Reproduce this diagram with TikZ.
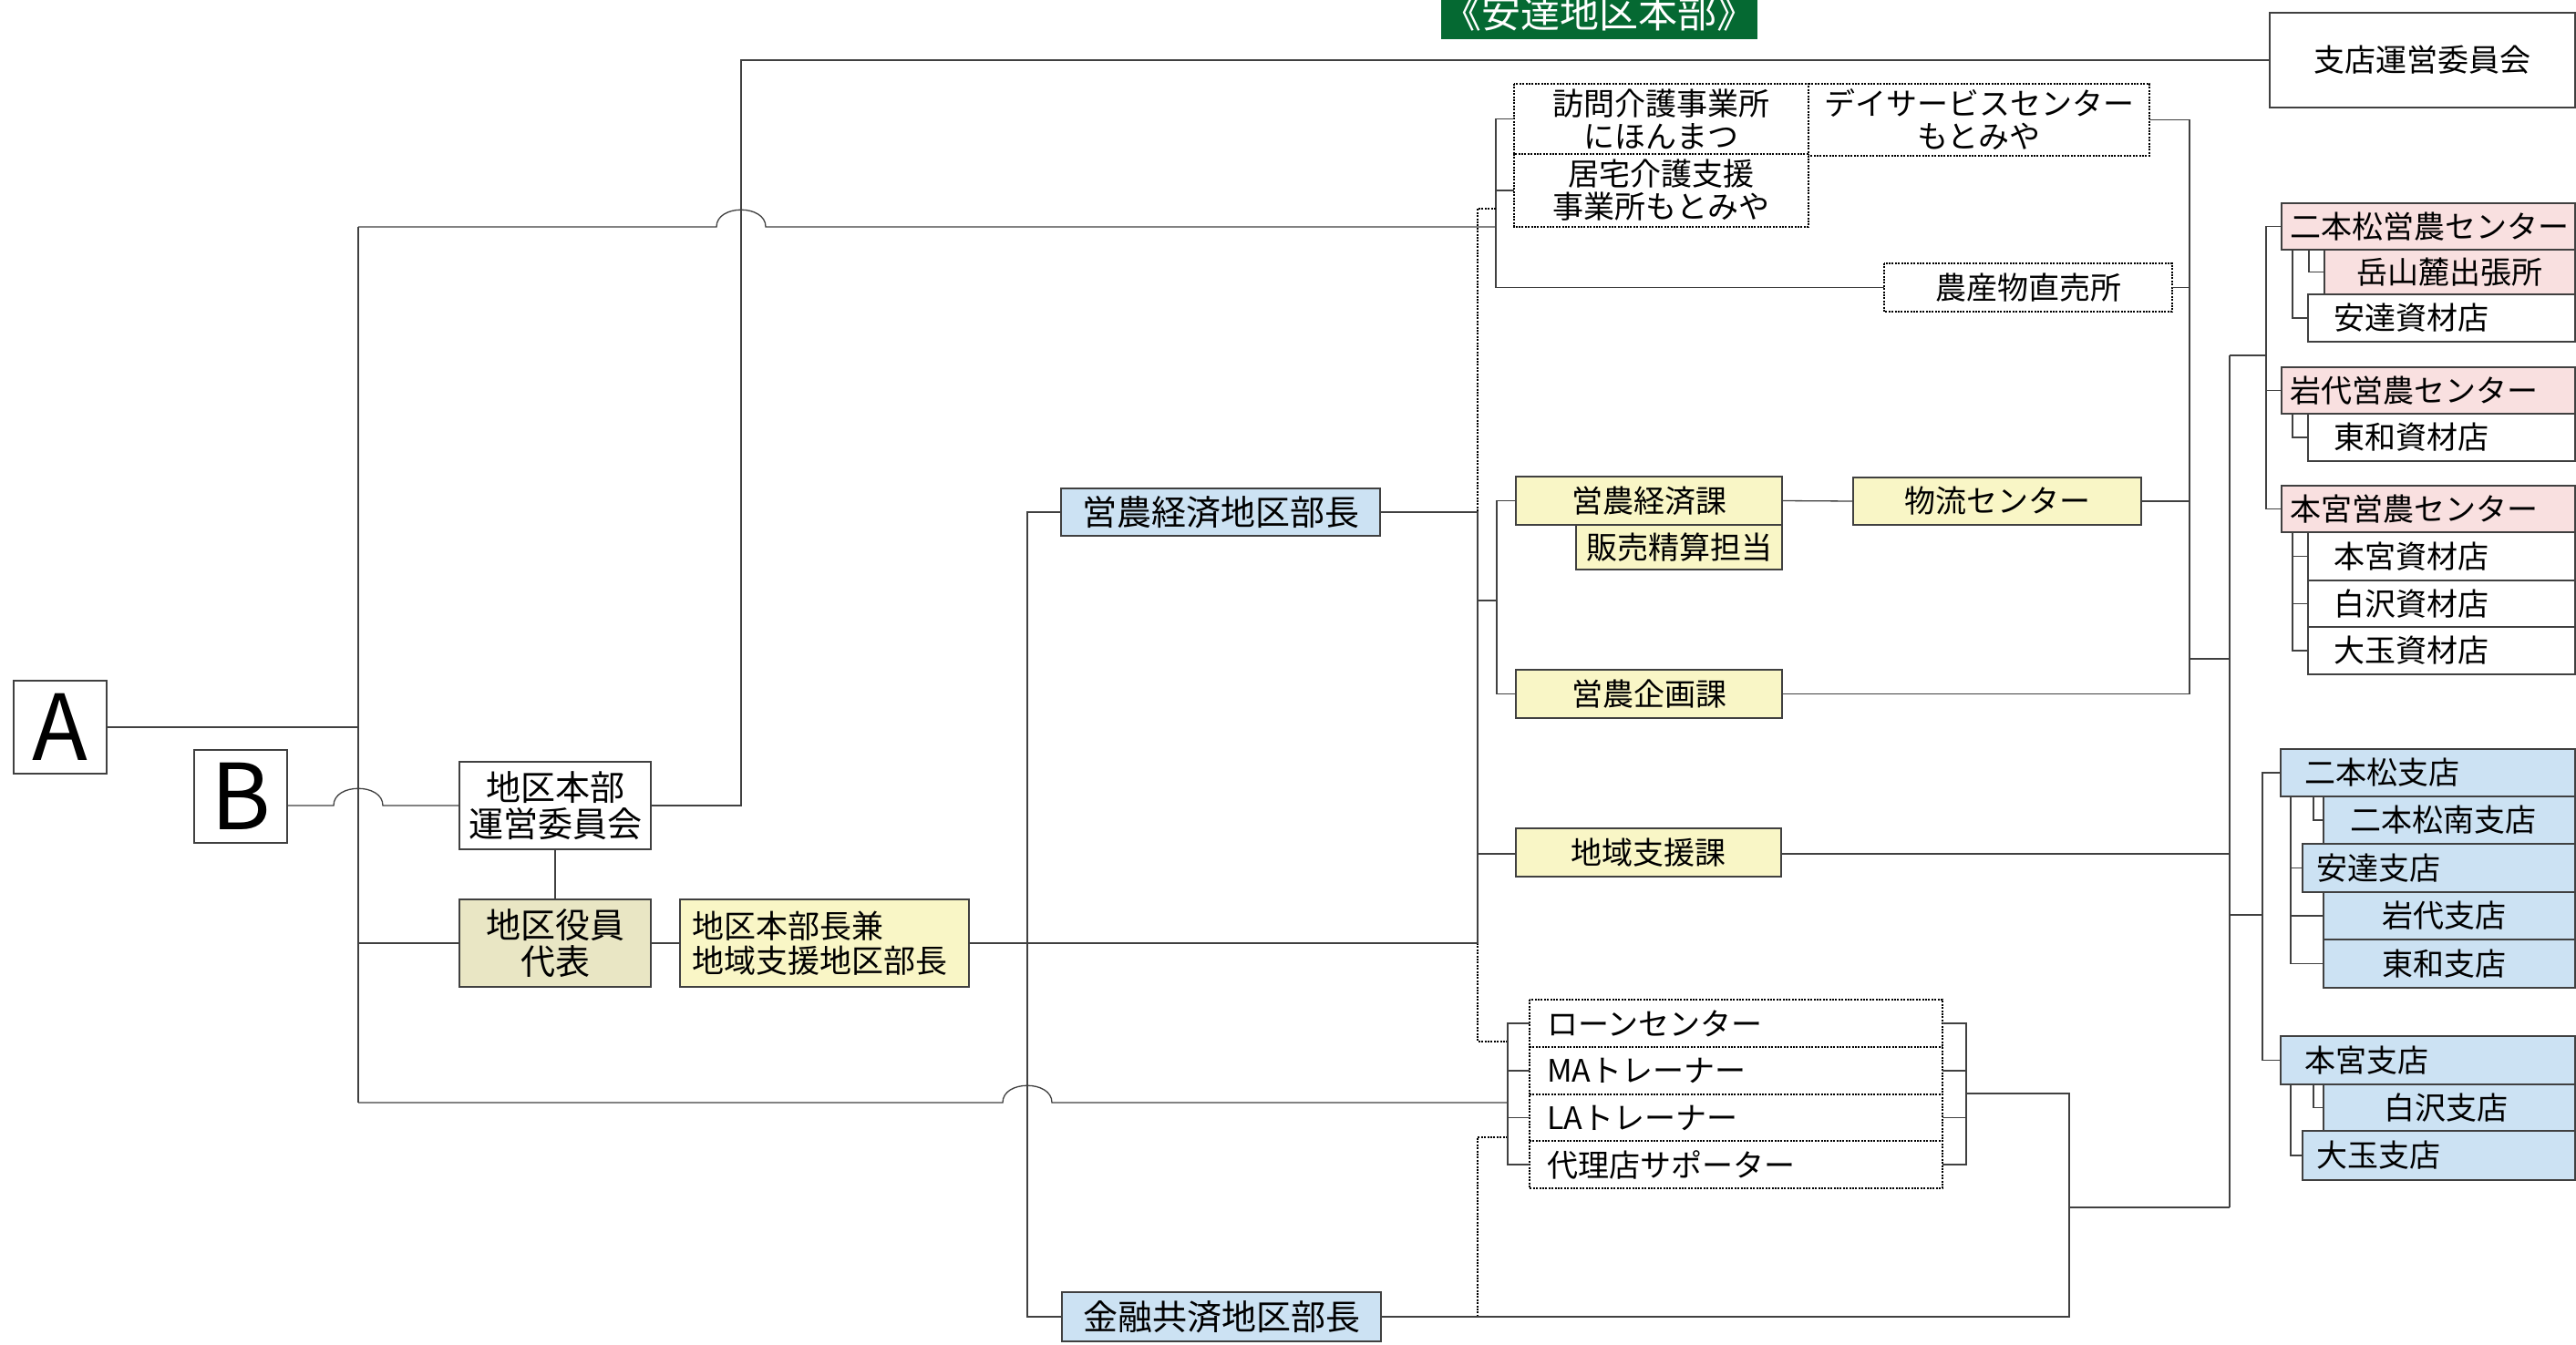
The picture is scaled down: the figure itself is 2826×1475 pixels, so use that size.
\documentclass[tikz,border=0pt]{standalone}
\usepackage{fontspec}
\setmainfont{Noto Sans CJK JP}
\usetikzlibrary{calc}
\definecolor{lc}{RGB}{64,64,64}
\definecolor{pinkF}{RGB}{249,224,224}
\definecolor{blueF}{RGB}{204,226,243}
\definecolor{yelF}{RGB}{249,246,198}
\definecolor{begF}{RGB}{233,230,196}
\definecolor{ttl}{RGB}{5,105,50}
\newcommand\jpA{\fontsize{34}{36}\selectfont}
\newcommand\jpB{\fontsize{38}{40}\selectfont}
\newcommand\jpC{\fontsize{35}{38}\selectfont}
\begin{document}
\begin{tikzpicture}[x=1pt,y=-1pt,
  base/.style={inner sep=0pt, outer sep=0pt, anchor=north west, align=center, text=black, font=\jpA},
  bx/.style={base, draw=lc, line width=1.3pt},
  nbx/.style={base},
  wh/.style 2 args={minimum width=#1pt, minimum height=#2pt},
  lal/.style 2 args={align=left, text width=#1pt, inner xsep=#2pt},
  ln/.style={draw=lc, line width=1.3pt},
  dl/.style={draw=black, line width=2pt, dash pattern=on 2pt off 1.4pt}]
\fill[white] (0,0) rectangle (2826,1475);
\useasboundingbox (0,0) rectangle (2826,1475);

% title
\node[base, fill=ttl, text=white, wh={347}{58}, font=\fontsize{43}{45}\selectfont] (title) at (1581,-15) {《安達地区本部》};

% left part
\node[bx, wh={102}{102}, font=\fontsize{100}{100}\selectfont] (A) at (15,747) {A};
\node[bx, wh={102}{102}, font=\fontsize{100}{100}\selectfont] (B) at (213,823) {B};
\node[bx, fill=white, wh={210}{96}, font=\jpB] (hq) at (504,836) {地区本部\\運営委員会};
\node[bx, fill=begF, wh={210}{96}, font=\jpB] (rep) at (504,987) {地区役員\\代表};
\node[bx, fill=yelF, wh={317}{96}, lal={291}{13}, font=\jpC] (honken) at (746,987) {地区本部長兼\\地域支援地区部長};
\node[bx, fill=blueF, wh={350}{52}, font=\jpB] (eibu) at (1164,536) {営農経済地区部長};
\node[bx, fill=blueF, wh={350}{54}, font=\jpB] (kinyu) at (1165,1418) {金融共済地区部長};

% top
\node[bx, fill=white, wh={335}{104}] (shiten) at (2490,14) {支店運営委員会};
\node[nbx, wh={323}{77}] (houmon) at (1661,92) {訪問介護事業所\\にほんまつ};
\node[nbx, wh={374}{79}] (dei) at (1984,92) {デイサービスセンター\\もとみや};
\node[nbx, wh={323}{80}] (kyotaku) at (1661,169) {居宅介護支援\\事業所もとみや};
\node[nbx, wh={316}{53}] (nousan) at (2067,289) {農産物直売所};
\draw[dl] (houmon.north west) rectangle (houmon.south east);
\draw[dl] (dei.north west) -- (dei.north east) -- (dei.south east) -- (dei.south west);
\draw[dl] (kyotaku.north west) -- (kyotaku.south west) -- (kyotaku.south east) -- (kyotaku.north east);
\draw[dl] (nousan.north west) rectangle (nousan.south east);

% middle (yellow)
\node[bx, fill=yelF, wh={292}{53}] (eikei) at (1663,523) {営農経済課};
\node[bx, fill=yelF, wh={226}{49}] (hanbai) at (1729,576) {販売精算担当};
\node[bx, fill=yelF, wh={316}{52}] (butsu) at (2033,524) {物流センター};
\node[bx, fill=yelF, wh={292}{53}] (kikaku) at (1663,735) {営農企画課};
\node[bx, fill=yelF, wh={291}{53}] (chiiki) at (1663,909) {地域支援課};

% loan group
\node[nbx, wh={453}{52}, lal={415}{19}] (loan) at (1678,1097) {ローンセンター};
\node[nbx, wh={453}{52}, lal={415}{19}] (ma) at (1678,1149) {MAトレーナー};
\node[nbx, wh={453}{51}, lal={415}{19}] (la) at (1678,1201) {LAトレーナー};
\node[nbx, wh={453}{52}, lal={415}{19}] (dairi) at (1678,1252) {代理店サポーター};
\draw[dl] (loan.north west) rectangle (dairi.south east);
\draw[dl] (loan.south west) -- (loan.south east);
\draw[dl] (ma.south west) -- (ma.south east);
\draw[dl] (la.south west) -- (la.south east);

% right: eino centers
\node[bx, fill=pinkF, wh={322}{51}, lal={304}{9}] (nihE) at (2503,223) {二本松営農センター};
\node[bx, fill=pinkF, wh={275}{49}] (dake) at (2550,274) {岳山麓出張所};
\node[bx, fill=white, wh={293}{52}, lal={237}{28}] (adaS) at (2532,323) {安達資材店};
\node[bx, fill=pinkF, wh={322}{51}, lal={304}{9}] (iwaE) at (2503,403) {岩代営農センター};
\node[bx, fill=white, wh={293}{52}, lal={237}{28}] (towaS) at (2532,454) {東和資材店};
\node[bx, fill=pinkF, wh={322}{51}, lal={304}{9}] (motoE) at (2503,533) {本宮営農センター};
\node[bx, fill=white, wh={293}{53}, lal={237}{28}] (motoS) at (2532,584) {本宮資材店};
\node[bx, fill=white, wh={293}{51}, lal={237}{28}] (shiraS) at (2532,637) {白沢資材店};
\node[bx, fill=white, wh={293}{52}, lal={237}{28}] (ootaS) at (2532,688) {大玉資材店};

% right: branches
\node[bx, fill=blueF, wh={323}{52}, lal={271}{26}] (nihB) at (2502,822) {二本松支店};
\node[bx, fill=blueF, wh={276}{52}, lal={218}{29}] (nihmB) at (2549,874) {二本松南支店};
\node[bx, fill=blueF, wh={299}{53}, lal={269}{15}] (adaB) at (2526,926) {安達支店};
\node[bx, fill=blueF, wh={276}{52}, lal={148}{64}] (iwaB) at (2549,979) {岩代支店};
\node[bx, fill=blueF, wh={276}{53}, lal={148}{64}] (towaB) at (2549,1031) {東和支店};
\node[bx, fill=blueF, wh={323}{53}, lal={271}{26}] (motoB) at (2502,1137) {本宮支店};
\node[bx, fill=blueF, wh={276}{51}, lal={144}{66}] (shiraB) at (2549,1190) {白沢支店};
\node[bx, fill=blueF, wh={299}{54}, lal={269}{15}] (ootaB) at (2526,1241) {大玉支店};

% bus coordinates
\coordinate (m1) at (393,249);
\coordinate (m2) at (393,1210);
\coordinate (k) at (813,0);
\coordinate (w) at (1641,0);
\coordinate (d1) at (1621,229);
\coordinate (d2) at (1621,1143);
\coordinate (d3) at (1621,1248);
\coordinate (g) at (1642,659);
\coordinate (v1) at (1127,0);
\coordinate (lb) at (1654,0);
\coordinate (rb) at (2157,0);
\coordinate (r1) at (2157,1200);
\coordinate (v3) at (2270,0);
\coordinate (y3) at (0,1325);
\coordinate (v2) at (2402,0);
\coordinate (y2) at (0,723);
\coordinate (v4) at (2446,390);
\coordinate (v4b) at (2446,1325);
\coordinate (v5) at (2486,0);
\coordinate (v6) at (2482,1004);
\coordinate (i1) at (2515,0);
\coordinate (i2) at (2533,0);
\coordinate (j1) at (2513,0);
\coordinate (j2) at (2538,0);
\coordinate (ych) at (0,937);
\coordinate (xB) at (m1 |- hq.west);
\coordinate (xT) at (k |- m1);
\coordinate (xL) at (v1 |- m2);

% left connectors
\draw[ln] (m1) -- (m2);
\draw[ln] (A.east) -- (m1 |- A.east);
\draw[ln] (B.east |- hq.west) -- ($(xB)+(-27,0)$) .. controls ($(xB)+(-27,-25)$) and ($(xB)+(27,-25)$) .. ($(xB)+(27,0)$) -- (hq.west);
\draw[ln] (m1 |- rep.west) -- (rep.west);
\draw[ln] (hq.south) -- (rep.north);
\draw[ln] (rep.east) -- (honken.west);
\draw[ln] (hq.east) -- (k |- hq.east) -- (k |- shiten.west) -- (shiten.west);
\draw[ln] (m1) -- ($(xT)+(-27,0)$) .. controls ($(xT)+(-27,-25)$) and ($(xT)+(27,-25)$) .. ($(xT)+(27,0)$) -- (w |- m1);
\draw[ln] (m2) -- ($(xL)+(-27,0)$) .. controls ($(xL)+(-27,-25)$) and ($(xL)+(27,-25)$) .. ($(xL)+(27,0)$) -- (lb |- m2);

% welfare group
\draw[ln] (houmon.west) -- (w |- houmon.west) -- (w |- nousan.west) -- (nousan.west);
\draw[ln] (kyotaku.west) -- (w |- kyotaku.west);

% dotted relations
\draw[dl] (w |- d1) -- (d1) -- (d1 |- eibu.east);
\draw[dl] (d1 |- honken.east) -- (d2) -- (lb |- d2);
\draw[dl] (lb |- d3) -- (d3) -- (d3 |- kinyu.east);

% eino keizai
\draw[ln] (eibu.east) -- (d1 |- eibu.east) -- (d1 |- honken.east) -- (honken.east);
\draw[ln] (d1 |- g) -- (g);
\draw[ln] (eikei.west) -- (g |- eikei.west) -- (g |- kikaku.west) -- (kikaku.west);
\draw[ln] (d1 |- ych) -- (chiiki.west |- ych);
\draw[ln] (eikei.east) -- (butsu.west);
\draw[ln] (eibu.west) -- (v1 |- eibu.west) -- (v1 |- kinyu.west) -- (kinyu.west);

% loan group
\draw[ln] (loan.west) -- (lb |- loan.west) -- (lb |- dairi.west) -- (dairi.west);
\draw[ln] (ma.west) -- (lb |- ma.west);
\draw[ln] (la.west) -- (lb |- la.west);
\draw[ln] (loan.east) -- (rb |- loan.east) -- (rb |- dairi.east) -- (dairi.east);
\draw[ln] (ma.east) -- (rb |- ma.east);
\draw[ln] (la.east) -- (rb |- la.east);
\draw[ln] (r1) -- (v3 |- r1) -- (v3 |- kinyu.east) -- (kinyu.east);
\draw[ln] (v3 |- y3) -- (v4b);

% right buses
\draw[ln] (dei.east) -- (v2 |- dei.east) -- (v2 |- kikaku.east) -- (kikaku.east);
\draw[ln] (nousan.east) -- (v2 |- nousan.east);
\draw[ln] (butsu.east) -- (v2 |- butsu.east);
\draw[ln] (v2 |- y2) -- (v4 |- y2);
\draw[ln] (v4) -- (v4b);
\draw[ln] (v4) -- (v5 |- v4);
\draw[ln] (chiiki.east |- ych) -- (v4 |- ych);
\draw[ln] (v6) -- (v4 |- v6);

% eino centers
\draw[ln] (nihE.west) -- (v5 |- nihE.west) -- (v5 |- motoE.west) -- (motoE.west);
\draw[ln] (iwaE.west) -- (v5 |- iwaE.west);
\draw[ln] (i1 |- nihE.south) -- (i1 |- adaS.west) -- (adaS.west);
\draw[ln] (i2 |- nihE.south) -- (i2 |- dake.west) -- (dake.west);
\draw[ln] (i1 |- iwaE.south) -- (i1 |- towaS.west) -- (towaS.west);
\draw[ln] (i1 |- motoE.south) -- (i1 |- ootaS.west) -- (ootaS.west);
\draw[ln] (i1 |- motoS.west) -- (motoS.west);
\draw[ln] (i1 |- shiraS.west) -- (shiraS.west);

% branches
\draw[ln] (nihB.west) -- (v6 |- nihB.west) -- (v6 |- motoB.west) -- (motoB.west);
\draw[ln] (j1 |- nihB.south) -- (j1 |- towaB.west) -- (towaB.west);
\draw[ln] (j1 |- adaB.west) -- (adaB.west);
\draw[ln] (j1 |- iwaB.west) -- (iwaB.west);
\draw[ln] (j2 |- nihB.south) -- (j2 |- nihmB.west) -- (nihmB.west);
\draw[ln] (j1 |- motoB.south) -- (j1 |- ootaB.west) -- (ootaB.west);
\draw[ln] (j2 |- motoB.south) -- (j2 |- shiraB.west) -- (shiraB.west);
\end{tikzpicture}
\end{document}
